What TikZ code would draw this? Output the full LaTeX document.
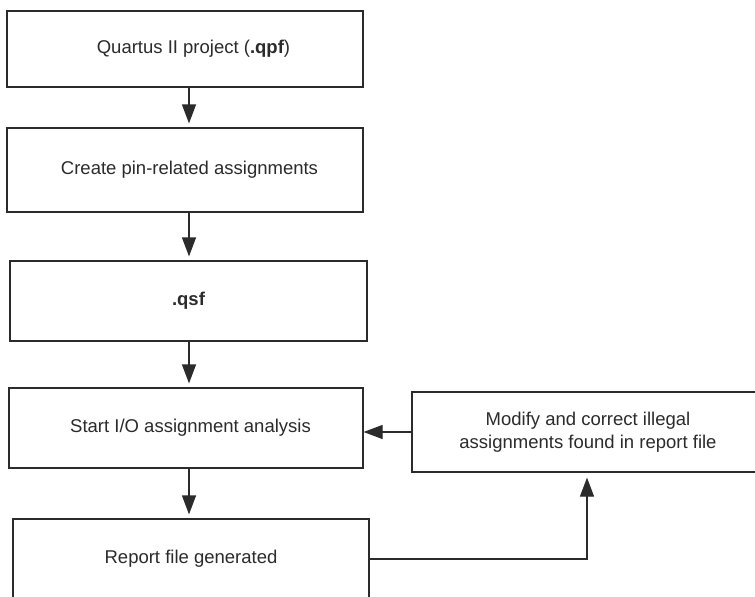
\documentclass[tikz,border=0pt]{standalone}
\usepackage{fontspec}
\setmainfont{Liberation Sans}
\usetikzlibrary{arrows.meta}
\definecolor{ink}{HTML}{2B2B2B}
\tikzset{
  box/.style={draw=ink, line width=1.2pt, minimum width=#1, minimum height=80pt,
    inner sep=0pt, align=center, text=ink,
    font=\fontsize{18.5}{23}\selectfont},
  box/.default=356pt,
  flow/.style={draw=ink, line width=1.2pt, -{Triangle[length=19pt,width=14pt]}}
}
\begin{document}
\begin{tikzpicture}[x=1pt,y=-1pt]
\useasboundingbox (0,0) rectangle (755,597);
\clip (0,0) rectangle (755,597);
\fill[white] (0,0) rectangle (755,597);
\node[box, minimum height=76pt] (b1) at (185,49) {\hspace*{17pt}Quartus II project (\textbf{.qpf})};
\node[box, minimum height=84pt] (b2) at (185,170) {\hspace*{9pt}Create pin-related assignments};
\node[box=357pt] (b3) at (188.5,301) {\textbf{.qsf}};
\node[box=354pt] (b4) at (186,428) {\hspace*{9pt}Start I/O assignment analysis};
\node[box] (b5) at (191,559) {Report file generated};
\node[box=352pt] (b6) at (588,432) {Modify and correct illegal\\assignments found in report file};
\coordinate (col) at (189,0);
\coordinate (col2) at (587,0);
\draw[flow, shorten >=4pt] (b1.south -| col) -- (b2.north -| col);
\draw[flow, shorten >=4pt] (b2.south -| col) -- (b3.north -| col);
\draw[flow, shorten >=4pt] (b3.south -| col) -- (b4.north -| col);
\draw[flow, shorten >=4pt] (b4.south -| col) -- (b5.north -| col);
\draw[flow] (b6.west) -- (b6.west -| b4.east);
\draw[flow, shorten >=5pt] (b5.east) -- (b5.east -| col2) -- (b6.south -| col2);
\end{tikzpicture}
\end{document}
